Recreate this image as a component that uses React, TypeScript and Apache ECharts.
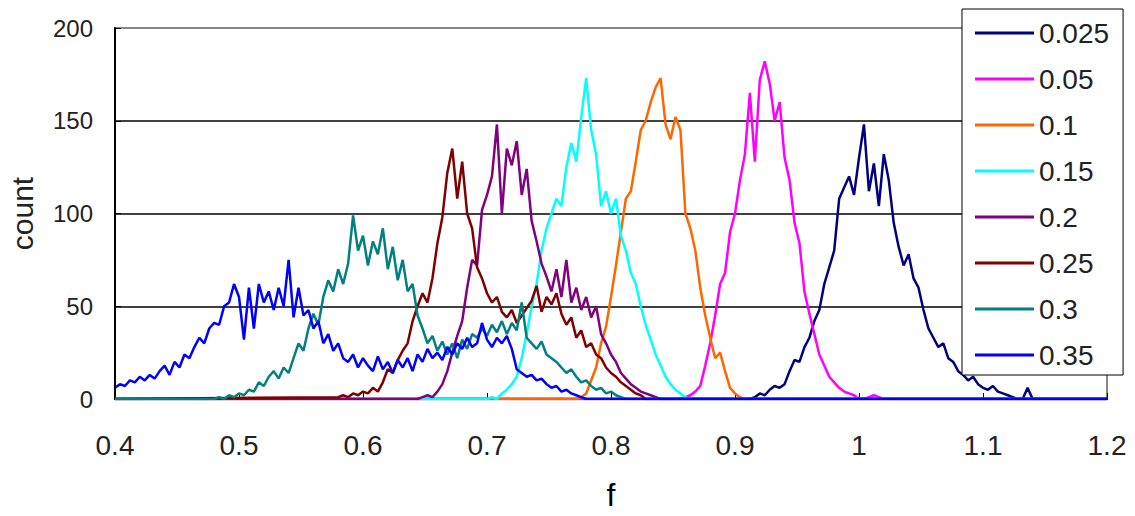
import React, { useEffect, useRef } from "react";
import * as echarts from "echarts";

// Histogram bins (f) and counts
const X_MIN = 0.4;
const X_MAX = 1.2;
const BIN = 0.004;

const seriesNames = ["0.025", "0.05", "0.1", "0.15", "0.2", "0.25", "0.3", "0.35"];
const seriesColors = ["#000080", "#FF00FF", "#FF6600", "#00FFFF", "#800080", "#800000", "#008080", "#0000FF"];

const start0025 = 0.912;
const counts0025 = [0, 1, 3, 2, 5, 7, 6, 8, 15, 21, 20, 28, 33, 42, 48, 62, 71, 80, 108, 114, 120, 110, 130, 148, 112, 127, 104, 132, 118, 95, 82, 72, 78, 65, 60, 48, 38, 33, 28, 30, 22, 20, 15, 13, 10, 12, 8, 6, 5, 7, 4, 3, 2, 1, 0, 0, 6, 0];

const start005 = 0.856;
const counts005 = [0, 1, 2, 4, 7, 18, 30, 45, 62, 68, 90, 100, 118, 132, 165, 128, 172, 182, 170, 150, 160, 130, 118, 95, 84, 58, 46, 35, 24, 18, 12, 9, 6, 4, 3, 2, 0, 0, 1, 2, 1, 0];

const start01 = 0.772;
const counts01 = [0, 1, 3, 10, 17, 30, 39, 55, 72, 90, 108, 112, 128, 145, 150, 160, 168, 173, 148, 140, 152, 145, 100, 92, 80, 60, 45, 33, 22, 25, 15, 6, 3, 1, 0];

const start015 = 0.7;
const counts015 = [0, 1, 0, 3, 5, 8, 12, 22, 35, 50, 62, 80, 92, 100, 108, 104, 125, 138, 128, 152, 173, 145, 132, 104, 112, 100, 108, 88, 80, 68, 62, 50, 40, 32, 24, 18, 12, 8, 5, 3, 1, 0];

const start02 = 0.644;
const counts02 = [0, 1, 2, 1, 4, 8, 15, 25, 34, 42, 60, 75, 72, 102, 110, 120, 148, 100, 135, 126, 139, 110, 124, 96, 85, 73, 66, 58, 70, 55, 75, 52, 60, 48, 55, 44, 50, 35, 30, 24, 20, 14, 11, 8, 6, 4, 3, 2, 1, 0];

const start025 = 0.58;
const counts025 = [1, 2, 1, 3, 2, 4, 3, 6, 4, 9, 16, 14, 21, 26, 30, 42, 50, 57, 52, 65, 84, 98, 122, 135, 108, 128, 100, 92, 71, 65, 57, 52, 55, 47, 44, 48, 41, 45, 49, 53, 61, 47, 55, 51, 57, 46, 40, 44, 33, 37, 28, 30, 24, 22, 17, 14, 12, 9, 7, 5, 3, 2, 0];

const start03 = 0.48;
const counts03 = [0, 1, 0, 2, 1, 3, 2, 5, 4, 9, 7, 12, 15, 11, 17, 14, 22, 30, 26, 38, 46, 40, 55, 64, 58, 70, 62, 73, 99, 80, 88, 72, 85, 78, 92, 70, 82, 64, 75, 58, 62, 45, 38, 30, 34, 26, 31, 24, 30, 22, 32, 27, 35, 33, 38, 34, 40, 36, 42, 35, 41, 37, 52, 33, 30, 27, 31, 24, 22, 20, 17, 14, 16, 12, 9, 10, 7, 5, 6, 3, 4, 2, 1, 0];

const start035 = 0.4;
const counts035 = [6, 8, 7, 10, 9, 12, 10, 13, 11, 15, 18, 13, 20, 17, 24, 22, 28, 33, 30, 38, 41, 40, 50, 52, 62, 55, 32, 60, 38, 62, 52, 58, 48, 60, 50, 75, 44, 60, 45, 48, 38, 42, 30, 35, 26, 30, 22, 20, 24, 17, 22, 18, 15, 23, 16, 20, 14, 21, 17, 22, 15, 24, 20, 27, 22, 25, 21, 28, 24, 30, 27, 33, 28, 30, 41, 32, 28, 33, 30, 34, 27, 16, 14, 12, 13, 10, 11, 8, 6, 7, 4, 5, 3, 2, 1, 0];

const starts = [start0025, start005, start01, start015, start02, start025, start03, start035];
const counts = [counts0025, counts005, counts01, counts015, counts02, counts025, counts03, counts035];

const xTicks = { min: 0.4, max: 1.2, interval: 0.1 };
const yTicks = { min: 0, max: 200, interval: 50 };

const FONT = "'Liberation Sans', Arial, sans-serif";

function buildPoints(start: number, vals: number[]): [number, number][] {
  const pts: [number, number][] = [];
  if (start > X_MIN + 1e-9) pts.push([X_MIN, 0]);
  vals.forEach((v, i) => pts.push([+(start + i * BIN).toFixed(4), v]));
  const last = start + (vals.length - 1) * BIN;
  if (last < X_MAX - 1e-9) pts.push([X_MAX, 0]);
  return pts;
}

export default function App() {
  const ref = useRef<HTMLDivElement>(null);
  useEffect(() => {
    if (!ref.current) return;
    const chart = echarts.init(ref.current, null, { renderer: "svg" });
    chart.setOption({
      animation: false,
      backgroundColor: "#ffffff",
      textStyle: { fontFamily: FONT },
      grid: {
        left: 115,
        right: 28,
        top: 28,
        bottom: 117,
        containLabel: false,
        outerBoundsMode: "none",
        show: true,
        borderColor: "#888888",
        borderWidth: 2,
        backgroundColor: "transparent",
      },
      legend: {
        orient: "vertical",
        left: 962,
        top: 9,
        padding: [10, 14, 6, 13],
        itemGap: 18,
        itemWidth: 59,
        itemHeight: 3,
        icon: "rect",
        selectedMode: false,
        backgroundColor: "#ffffff",
        borderColor: "#000000",
        borderWidth: 1,
        z: 10,
        textStyle: { fontSize: 28, fontFamily: FONT, color: "#222222", lineHeight: 28 },
        data: seriesNames,
      },
      xAxis: {
        type: "value",
        min: xTicks.min,
        max: xTicks.max,
        interval: xTicks.interval,
        name: "f",
        nameLocation: "middle",
        nameGap: 80,
        nameTextStyle: { fontSize: 32, color: "#000000", fontFamily: FONT },
        axisLine: { show: true, onZero: false, lineStyle: { color: "#000000", width: 2 } },
        axisTick: { show: true, inside: true, length: 6, lineStyle: { color: "#000000", width: 1 } },
        axisLabel: { fontSize: 28, color: "#222222", margin: 32, fontFamily: FONT },
        splitLine: { show: false },
      },
      yAxis: {
        type: "value",
        min: yTicks.min,
        max: yTicks.max,
        interval: yTicks.interval,
        name: "count",
        nameLocation: "middle",
        nameGap: 78,
        nameTextStyle: { fontSize: 30, color: "#222222", fontFamily: FONT },
        axisLine: { show: true, lineStyle: { color: "#000000", width: 2 } },
        axisTick: { show: true, inside: true, length: 6, lineStyle: { color: "#000000", width: 1 } },
        axisLabel: { fontSize: 24, color: "#222222", margin: 22, fontFamily: FONT },
        splitLine: {
          show: true,
          lineStyle: { color: ["#000000", "#000000", "#000000", "#000000", "#888888"], width: 1.5 },
        },
      },
      series: seriesNames.map((name, k) => ({
        name,
        type: "line",
        showSymbol: false,
        symbol: "none",
        color: seriesColors[k],
        lineStyle: { color: seriesColors[k], width: 2.5 },
        data: buildPoints(starts[k], counts[k]),
        z: 2 + k * 0.01,
      })),
    });
    return () => chart.dispose();
  }, []);
  return <div ref={ref} style={{ position: "fixed", left: 0, top: 0, width: 1135, height: 516 }} />;
}
